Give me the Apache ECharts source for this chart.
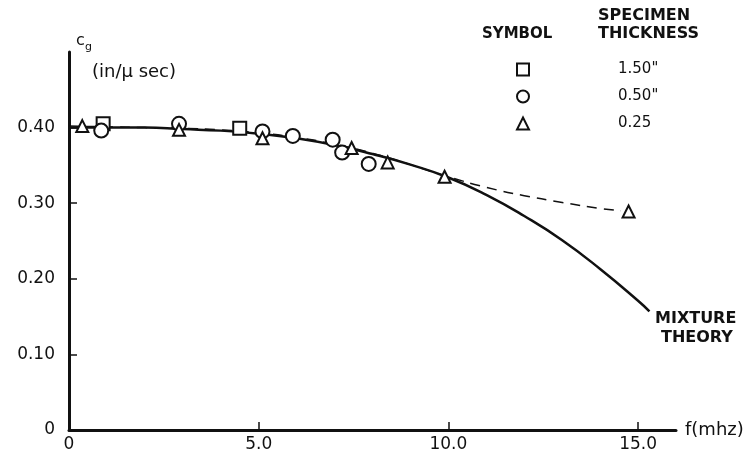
<!DOCTYPE html>
<html>
<head>
<meta charset="utf-8">
<script src="https://cdn.jsdelivr.net/npm/echarts@6/dist/echarts.min.js"></script>
<style>
html,body{margin:0;padding:0;background:#fff;}
#chart{width:752px;height:453px;}
</style>
</head>
<body>
<div id="chart"></div>
<script>
// ---- data ----
const xTickValues = [0, 5, 10, 15];
const yTickValues = [0, 0.1, 0.2, 0.3, 0.4];

const seriesNames = ['1.50"', '0.50"', '0.25'];

const square_f = [0.9, 4.5];
const square_v = [0.405, 0.399];

const circle_f = [0.85, 2.9, 5.1, 5.9, 6.95, 7.2, 7.9];
const circle_v = [0.396, 0.405, 0.395, 0.389, 0.384, 0.367, 0.352];

const triangle_f = [0.35, 2.9, 5.1, 7.45, 8.4, 9.9, 14.75];
const triangle_v = [0.402, 0.397, 0.386, 0.373, 0.354, 0.335, 0.289];

const theory_f = [0, 1, 2, 3, 4, 5, 6, 7, 8, 9, 10, 11, 12, 13, 14, 15, 15.3];
const theory_v = [0.400, 0.400, 0.400, 0.398, 0.396, 0.392, 0.386, 0.377, 0.365, 0.351, 0.334, 0.311, 0.283, 0.251, 0.213, 0.171, 0.157];

const dashed_f = [0, 1, 2, 3, 4, 5, 6, 7, 8, 9, 10, 11, 12, 13, 14, 14.55];
const dashed_v = [0.402, 0.401, 0.400, 0.399, 0.397, 0.393, 0.387, 0.378, 0.366, 0.351, 0.335, 0.321, 0.310, 0.301, 0.293, 0.290];

const zip = (a, b) => a.map((v, i) => [v, b[i]]);

const FONT = 'DejaVu Sans';
const INK = '#111';

const chart = echarts.init(document.getElementById('chart'), null, {renderer: 'canvas'});

const markerStyle = {color: '#fff', borderColor: INK, borderWidth: 2, opacity: 1};

const option = {
  backgroundColor: '#fff',
  animation: false,
  grid: {left: 69, right: 76, top: 52, bottom: 22},
  xAxis: {
    type: 'value', min: 0, max: 16,
    name: 'f(mhz)', nameLocation: 'end', nameGap: 9,
    nameTextStyle: {fontFamily: FONT, fontSize: 18, color: INK, verticalAlign: 'middle'},
    axisLine: {lineStyle: {color: INK, width: 3}},
    axisTick: {show: true, inside: true, length: 8, customValues: [5, 10, 15], lineStyle: {color: INK, width: 1.5}},
    axisLabel: {customValues: xTickValues, margin: 6, fontFamily: FONT, fontSize: 17, color: INK,
      formatter: v => v === 0 ? '0' : v.toFixed(1)},
    splitLine: {show: false}
  },
  yAxis: {
    type: 'value', min: 0, max: 0.5,
    axisLine: {lineStyle: {color: INK, width: 3}},
    axisTick: {show: true, inside: true, length: 8, customValues: [0.1, 0.2, 0.3, 0.4], lineStyle: {color: INK, width: 1.5}},
    axisLabel: {customValues: yTickValues, margin: 14, fontFamily: FONT, fontSize: 17, color: INK,
      formatter: v => v === 0 ? '0' : v.toFixed(2)},
    splitLine: {show: false}
  },
  legend: {
    data: seriesNames,
    orient: 'vertical',
    left: 511, top: 57,
    itemWidth: 12, itemHeight: 12, itemGap: 12,
    formatter: name => '{t|' + name + '}',
    textStyle: {fontFamily: FONT, fontSize: 15, color: INK,
      rich: {t: {fontFamily: FONT, fontSize: 15, color: INK, padding: [0, 0, 0, 84]}}},
    selectedMode: false
  },
  graphic: [
    {type: 'text', left: 76, top: 33, style: {text: 'c', font: '16px "DejaVu Sans"', fill: INK}},
    {type: 'text', left: 85, top: 42, style: {text: 'g', font: '11px "DejaVu Sans"', fill: INK}},
    {type: 'text', left: 92, top: 63, style: {text: '(in/μ sec)', font: '18px "DejaVu Sans"', fill: INK}},
    {type: 'text', left: 482, top: 27, style: {text: 'SYMBOL', font: 'bold 15px "DejaVu Sans"', fill: INK}},
    {type: 'text', left: 598, top: 8, style: {text: 'SPECIMEN', font: 'bold 16px "DejaVu Sans"', fill: INK}},
    {type: 'text', left: 598, top: 26, style: {text: 'THICKNESS', font: 'bold 16px "DejaVu Sans"', fill: INK}},
    {type: 'text', left: 655, top: 311, style: {text: 'MIXTURE', font: 'bold 16px "DejaVu Sans"', fill: INK}},
    {type: 'text', left: 661, top: 330, style: {text: 'THEORY', font: 'bold 16px "DejaVu Sans"', fill: INK}}
  ],
  series: [
    {name: 'theory', type: 'line', smooth: true, symbol: 'none', z: 2,
      data: zip(theory_f, theory_v), lineStyle: {color: INK, width: 2.5}},
    {name: 'dashed', type: 'line', smooth: true, symbol: 'none', z: 2,
      data: zip(dashed_f, dashed_v), lineStyle: {color: INK, width: 1.5, type: [10, 7]}},
    {name: seriesNames[0], type: 'scatter', symbol: 'rect', symbolSize: 13, z: 5,
      data: zip(square_f, square_v), itemStyle: markerStyle},
    {name: seriesNames[1], type: 'scatter', symbol: 'circle', symbolSize: 14, z: 5,
      data: zip(circle_f, circle_v), itemStyle: markerStyle},
    {name: seriesNames[2], type: 'scatter', symbol: 'triangle', symbolSize: 12, z: 5,
      data: zip(triangle_f, triangle_v), itemStyle: markerStyle}
  ]
};
chart.setOption(option);
</script>
</body>
</html>
